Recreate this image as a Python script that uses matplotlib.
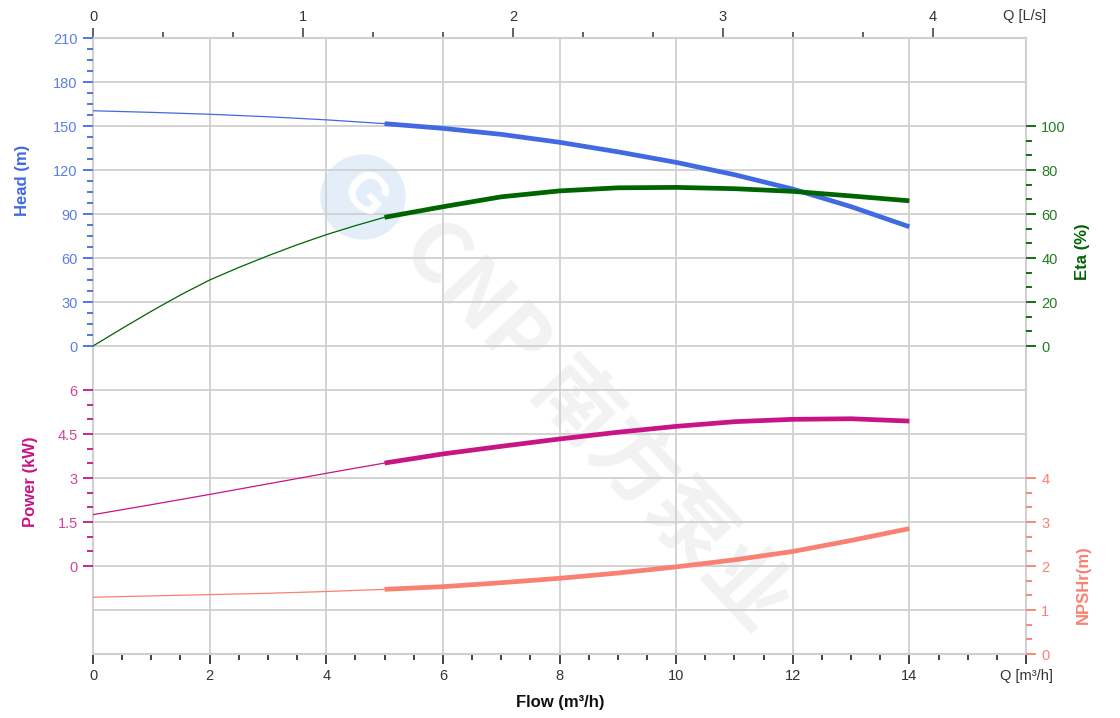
import matplotlib
matplotlib.use("Agg")
import matplotlib.pyplot as plt
import numpy as np
from matplotlib.ticker import FixedLocator, NullFormatter, FuncFormatter
from matplotlib.patches import Circle

plt.rcParams['font.family'] = ['Liberation Sans', 'DejaVu Sans']

# flow points (m3/h) and curves
flow = [0, 1, 2, 3, 4, 5, 6, 7, 8, 9, 10, 11, 12, 13, 14]
head = [160.4, 159.3, 158.0, 156.3, 154.2, 151.6, 148.4, 144.3, 138.9, 132.4, 125.2, 116.8, 107.0, 95.0, 81.3]
power = [1.75, 2.09, 2.44, 2.80, 3.16, 3.51, 3.82, 4.08, 4.33, 4.56, 4.76, 4.92, 5.00, 5.02, 4.94]
npshr = [1.29, 1.32, 1.35, 1.38, 1.42, 1.47, 1.53, 1.62, 1.72, 1.84, 1.98, 2.14, 2.33, 2.58, 2.85]
# efficiency is read more finely where it bends
eta_flow = [0, 0.5, 1, 1.5, 2, 2.5, 3, 3.5, 4, 4.5, 5, 6, 7, 8, 9, 10, 11, 12, 13, 14]
eta = [0, 8.0, 15.8, 23.2, 30.0, 35.7, 41.0, 46.0, 50.6, 54.7, 58.5, 63.3, 67.8, 70.5,
       71.9, 72.1, 71.5, 70.3, 68.2, 66.0]
q_start = 5  # curves become thick from Q = 5 m3/h

x_ticklabels = ['0', '2', '4', '6', '8', '10', '12', '14', 'Q [m³/h]']

C_HEAD = '#4169E1'
C_ETA = '#006400'
C_POW = '#C71585'
C_NPSH = '#FA8072'
GRID = '#d0d0d0'
W, H = 1120, 718

fig = plt.figure(figsize=(W / 100, H / 100), dpi=100)
ax = fig.add_axes([93 / W, (H - 654) / H, (1026 - 93) / W, (654 - 38) / H])

# base axes: grid + flow axis
ax.set_xlim(0, 16)
ax.set_ylim(0, 14)
ax.set_xticks(np.arange(0, 17, 2))
ax.set_xticklabels(x_ticklabels)
ax.xaxis.set_minor_locator(FixedLocator(np.arange(0, 16.01, 0.5)))
ax.set_yticks(np.arange(0, 15, 1))
ax.tick_params(axis='x', which='major', length=7, width=1.3, color='#333333',
               labelsize=10.5, labelcolor='#333333', pad=4)
ax.tick_params(axis='x', which='minor', length=4.5, width=1.3, color='#333333')
ax.grid(True, color=GRID, lw=1.3)
ax.set_axisbelow(True)
for s in ax.spines.values():
    s.set_color(GRID)
    s.set_linewidth(1.5)

top = ax.secondary_xaxis('top', functions=(lambda q: q / 3.6, lambda l: l * 3.6))
top.set_xticks(np.arange(0, 5, 1))
top.xaxis.set_minor_locator(FixedLocator(np.arange(0, 4.01, 1 / 3)))
top.tick_params(which='major', length=7, width=1.3, color='#555555',
                labelsize=10.5, labelcolor='#333333', pad=3)
top.tick_params(which='minor', length=4.5, width=1.3, color='#555555')
top.spines['top'].set_visible(False)


def setup_twin(a, side, lim, majors, minors, tcolor, lcolor):
    a.set_ylim(*lim)
    for s in a.spines.values():
        s.set_visible(False)
    a.yaxis.set_major_locator(FixedLocator(majors))
    a.yaxis.set_minor_locator(FixedLocator(minors))
    a.yaxis.set_minor_formatter(NullFormatter())
    on_left = side == 'left'
    a.tick_params(axis='y', which='both', left=on_left, labelleft=on_left,
                  right=not on_left, labelright=not on_left)
    a.tick_params(axis='y', which='major', length=7, width=1.3, color=tcolor,
                  labelsize=10.5, labelcolor=lcolor, pad=4)
    a.tick_params(axis='y', which='minor', length=4, width=1.3, color=tcolor)


ax_h = ax.twinx()
setup_twin(ax_h, 'left', (-210, 210), np.arange(0, 211, 30), np.arange(0, 210.1, 7.5),
           C_HEAD, '#5a7fe8')
ax_p = ax.twinx()
setup_twin(ax_p, 'left', (-3, 18), np.arange(0, 6.01, 1.5), np.arange(0, 6.01, 0.5),
           C_POW, '#d0459b')
ax_p.yaxis.set_major_formatter(FuncFormatter(lambda v, p: f'{v:g}'))
ax_e = ax.twinx()
setup_twin(ax_e, 'right', (-140, 140), np.arange(0, 101, 20), np.arange(0, 100.1, 20 / 3),
           C_ETA, '#237d23')
ax_n = ax.twinx()
setup_twin(ax_n, 'right', (0, 14), np.arange(0, 5, 1), np.arange(0, 4.01, 1 / 3),
           C_NPSH, C_NPSH)

# twinx turns the base y ticks back on, so hide them afterwards
ax.tick_params(axis='y', which='both', left=False, right=False,
               labelleft=False, labelright=False)

for a, q, vals, c in [(ax_h, flow, head, C_HEAD), (ax_e, eta_flow, eta, C_ETA),
                      (ax_p, flow, power, C_POW), (ax_n, flow, npshr, C_NPSH)]:
    k = q.index(q_start)
    a.plot(q[:k + 1], vals[:k + 1], color=c, lw=0.9)
    a.plot(q[k:], vals[k:], color=c, lw=3.4, solid_capstyle='butt')

# watermark
ax.add_patch(Circle((363 / 100, (H - 197) / 100), 0.42, transform=fig.dpi_scale_trans,
                    color='#e3eef9', zorder=0.2, clip_on=False))
fig.text(363 / W, 1 - 197 / H, 'G', fontsize=40, fontweight='bold', color='white',
         rotation=-45, ha='center', va='center', zorder=0.3)
ax.text(595 / W, 1 - 425 / H, 'CNP 南方泵业', transform=fig.transFigure,
        family=['Noto Sans CJK SC', 'DejaVu Sans'], fontsize=60, fontweight='bold',
        color='#000000', alpha=0.055, rotation=-47, ha='center', va='center',
        rotation_mode='anchor', zorder=0.3)

# axis titles
fig.text(22 / W, 1 - 180 / H, 'Head (m)', rotation=90, ha='center', va='center',
         fontsize=12, fontweight='bold', color=C_HEAD)
fig.text(30 / W, 1 - 482 / H, 'Power (kW)', rotation=90, ha='center', va='center',
         fontsize=12, fontweight='bold', color=C_POW)
fig.text(1083 / W, 1 - 252 / H, 'Eta (%)', rotation=90, ha='center', va='center',
         fontsize=12, fontweight='bold', color=C_ETA)
fig.text(1083 / W, 1 - 585 / H, 'NPSHr(m)', rotation=90, ha='center', va='center',
         fontsize=12, fontweight='bold', color=C_NPSH)
fig.text(560 / W, 1 - 702 / H, 'Flow (m³/h)', ha='center', va='center',
         fontsize=12, fontweight='bold', color='#111111')
fig.text(1025 / W, 1 - 16 / H, 'Q [L/s]', ha='center', va='center',
         fontsize=10.5, color='#333333')

fig.savefig('out.png', dpi=100)
